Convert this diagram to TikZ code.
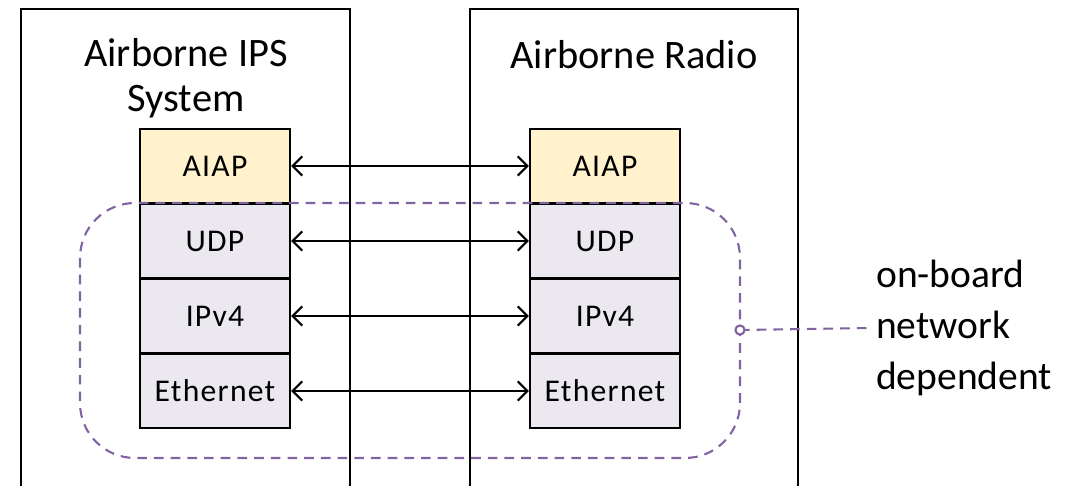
\documentclass[tikz,border=0pt]{standalone}
\usepackage{fontspec}
\setmainfont{Carlito}
\usetikzlibrary{arrows.meta,positioning}

\definecolor{aiapfill}{RGB}{255,242,204}
\definecolor{stackfill}{RGB}{235,232,240}
\definecolor{netpurple}{RGB}{128,100,162}

\begin{document}
\begin{tikzpicture}[x=0.02cm,y=-0.02cm,
    frame/.style={line width=1.5pt},
    layer/.style={draw,line width=1.3pt,minimum width=3cm,minimum height=1.49cm,
      inner sep=0pt,font=\fontsize{18}{21}\selectfont\addfontfeature{LetterSpace=4}},
    title/.style={align=center,font=\fontsize{23}{25.6}\selectfont},
    link/.style={line width=1.2pt,{Straight Barb[length=5.5pt,width=11pt]}-{Straight Barb[length=5.5pt,width=11pt]}},
    net/.style={netpurple,line width=1.2pt,dash pattern=on 5.5pt off 4pt}]
  \useasboundingbox (0,0) rectangle (1066,486);
  % the two end systems
  \draw[frame] (21,490) |- (350,9) -- (350,490);
  \draw[frame] (470,490) |- (798,9) -- (798,490);
  \node[title] (ipsname) at (186,78) {Airborne IPS\\System};
  \node[title] (radioname) at (634,55) {Airborne Radio};
  % protocol stacks, peer to peer
  \foreach \n/\s/\c/\y in {aiap/AIAP/aiapfill/166, udp/UDP/stackfill/241,
                          ipv4/IPv4/stackfill/316, eth/Ethernet/stackfill/391} {
    \node[layer,fill=\c] (l\n) at (215,\y) {\s};
    \node[layer,fill=\c] (r\n) at (605,\y) {\s};
    \draw[link] (l\n) -- (r\n);
  }
  % network dependent part
  \draw[net,rounded corners=1.1cm] (80,203) rectangle (740,458);
  \coordinate (grp) at (740,330);
  \node[align=left,anchor=west,font=\fontsize{22.5}{29}\selectfont] (note) at (870,328)
    {on-board\\network\\dependent};
  \draw[net] (grp) -- (note.west);
  \draw[netpurple,line width=1.2pt,fill=white] (grp) circle (2.6pt);
\end{tikzpicture}
\end{document}
